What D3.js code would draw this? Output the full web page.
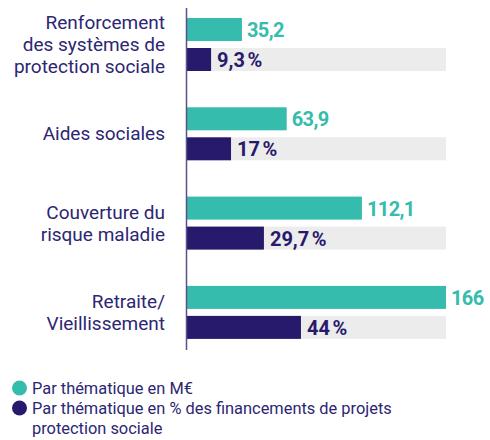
<!DOCTYPE html>
<html><head><meta charset="utf-8">
<script src="https://cdn.jsdelivr.net/npm/d3@7"></script>
<style>body{margin:0;background:#fff}svg{display:block}</style>
</head><body>
<script>
const categories = [
  ["Renforcement", "des systèmes de", "protection sociale"],
  ["Aides sociales"],
  ["Couverture du", "risque maladie"],
  ["Retraite/", "Vieillissement"]
];
const montants = [35.2, 63.9, 112.1, 166];
const parts = [9.3, 17, 29.7, 44];
const montantLabels = ["35,2", "63,9", "112,1", "166"];
const partLabels = ["9,3\u202F%", "17\u202F%", "29,7\u202F%", "44\u202F%"];
const legendItems = [
  ["Par thématique en M€"],
  ["Par thématique en % des financements de projets", "protection sociale"]
];

const W = 490, H = 440;
const teal = "#35bcad", dark = "#271a6c", textCol = "#2d2672";
const svg = d3.select("body").append("svg").attr("width", W).attr("height", H);

const x0 = 187;
const xM = d3.scaleLinear().domain([0, 166]).range([x0, 446]);
const xP = d3.scaleLinear().domain([0, 100]).range([x0, 446]);
const y = d3.scaleBand().domain(d3.range(4)).range([18, 375.2]).paddingInner(0).paddingOuter(0);
const barH = 23, gap = 7;

const g = svg.append("g");
d3.range(4).forEach(i => {
  const top = y(i);
  g.append("rect").attr("x", xP(0)).attr("y", top + barH + gap).attr("width", xP(100) - xP(0)).attr("height", barH).attr("fill", "#ececec");
  g.append("rect").attr("x", xM(0)).attr("y", top).attr("width", xM(montants[i]) - xM(0)).attr("height", barH).attr("fill", teal);
  g.append("rect").attr("x", xP(0)).attr("y", top + barH + gap).attr("width", xP(parts[i]) - xP(0)).attr("height", barH).attr("fill", dark);
  g.append("text").attr("x", xM(montants[i]) + 5).attr("y", top + barH / 2 + 7.5)
    .attr("fill", teal).attr("font-family", "Roboto").attr("font-weight", 700).attr("font-size", 20)
    .attr("letter-spacing", -0.6).text(montantLabels[i]);
  g.append("text").attr("x", xP(parts[i]) + 6).attr("y", top + barH + gap + barH / 2 + 7.5)
    .attr("fill", dark).attr("font-family", "Roboto").attr("font-weight", 700).attr("font-size", 20)
    .attr("letter-spacing", -0.6).text(partLabels[i]);
  const center = top + (2 * barH + gap) / 2;
  const lines = categories[i];
  const t = g.append("text").attr("text-anchor", "end").attr("fill", textCol)
    .attr("font-family", "Roboto").attr("font-size", 19);
  lines.forEach((l, j) => {
    t.append("tspan").attr("x", 165).attr("y", center + 6.5 + (j - (lines.length - 1) / 2) * 22).text(l);
  });
});

svg.append("line").attr("x1", 186.5).attr("x2", 186.5).attr("y1", 8).attr("y2", 350)
  .attr("stroke", "#5b5189").attr("stroke-width", 1.5);

const legCols = [teal, dark];
const legY = [388, 408];
legendItems.forEach((lines, i) => {
  svg.append("circle").attr("cx", 19.5).attr("cy", legY[i]).attr("r", 7.5).attr("fill", legCols[i]);
  const t = svg.append("text").attr("fill", textCol).attr("font-family", "Roboto").attr("font-size", 16.4);
  lines.forEach((l, j) => t.append("tspan").attr("x", 32).attr("y", legY[i] + 6 + j * 20).text(l));
});
</script>
</body></html>
